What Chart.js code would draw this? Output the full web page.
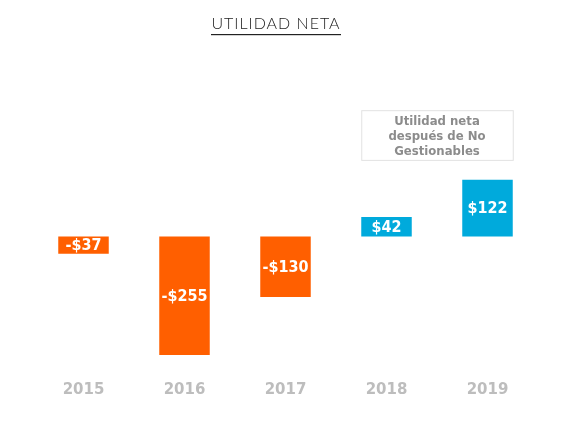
<!DOCTYPE html>
<html>
<head>
<meta charset="utf-8">
<script src="https://cdn.jsdelivr.net/npm/chart.js@4"></script>
<style>
  body { margin: 0; background: #fff; }
  #wrap { width: 562px; height: 434px; position: relative; }
</style>
</head>
<body>
<div id="wrap"><canvas id="netChart"></canvas></div>
<script>
const years = ['2015', '2016', '2017', '2018', '2019'];
const netIncome = [-37, -255, -130, 42, 122];
const valueLabels = ['-$37', '-$255', '-$130', '$42', '$122'];
const noteLines = ['Utilidad neta', 'después de No', 'Gestionables'];

const ORANGE = '#ff5f00';
const BLUE = '#00aadc';

// title, bar labels and the note box
const extras = {
    id: 'extras',
    afterDatasetsDraw(chart) {
        const c = chart.ctx;
        const y = chart.scales.y;
        c.save();
        // title
        c.font = '300 16px Lato';
        c.fillStyle = '#222';
        c.textAlign = 'center';
        c.textBaseline = 'middle';
        c.letterSpacing = '1px';
        c.fillText('UTILIDAD NETA', 276, 24);
        c.fillRect(211, 34, 130, 1.2);
        c.letterSpacing = '0px';

        // labels inside bars
        c.font = 'bold 16px "DejaVu Sans Condensed"';
        c.fillStyle = '#fff';
        const bars = chart.getDatasetMeta(0).data;
        bars.forEach((bar, i) => {
            c.fillText(valueLabels[i], bar.x, (bar.y + bar.base) / 2 + 1);
        });

        // note box over the last two years
        const left = bars[3].x - bars[3].width / 2;
        const right = bars[4].x + bars[4].width / 2;
        const top = y.getPixelForValue(272);
        const bottom = y.getPixelForValue(165);
        c.strokeStyle = '#e2e2e2';
        c.lineWidth = 1;
        c.strokeRect(left + 0.5, top + 0.5, right - left, bottom - top);
        c.font = 'bold 13px "DejaVu Sans Condensed"';
        c.fillStyle = '#8c8c8c';
        noteLines.forEach((t, i) => c.fillText(t, (left + right) / 2, top + 11 + i * 15));
        c.restore();
    }
};

new Chart(document.getElementById('netChart'), {
    type: 'bar',
    data: {
        labels: years,
        datasets: [{
            data: netIncome,
            backgroundColor: netIncome.map(v => v < 0 ? ORANGE : BLUE),
            barPercentage: 0.5,
            categoryPercentage: 1
        }]
    },
    options: {
        responsive: true,
        maintainAspectRatio: false,
        animation: false,
        layout: { padding: { left: 33, right: 24, top: 60, bottom: 17 } },
        plugins: { legend: { display: false }, tooltip: { enabled: false } },
        scales: {
            x: {
                grid: { display: false },
                border: { display: false },
                ticks: { color: '#bdbdbd', padding: 18, font: { family: 'DejaVu Sans', size: 15, weight: 'bold' } }
            },
            y: {
                display: true,
                min: -255,
                max: 380,
                border: { display: false },
                ticks: { display: false, stepSize: 635 },
                afterFit(s) { s.width = 0; },
                grid: { color: ctx => ctx.tick.value === 0 ? '#e6e6e6' : 'transparent', drawTicks: false }
            }
        }
    },
    plugins: [extras]
});
</script>
</body>
</html>
